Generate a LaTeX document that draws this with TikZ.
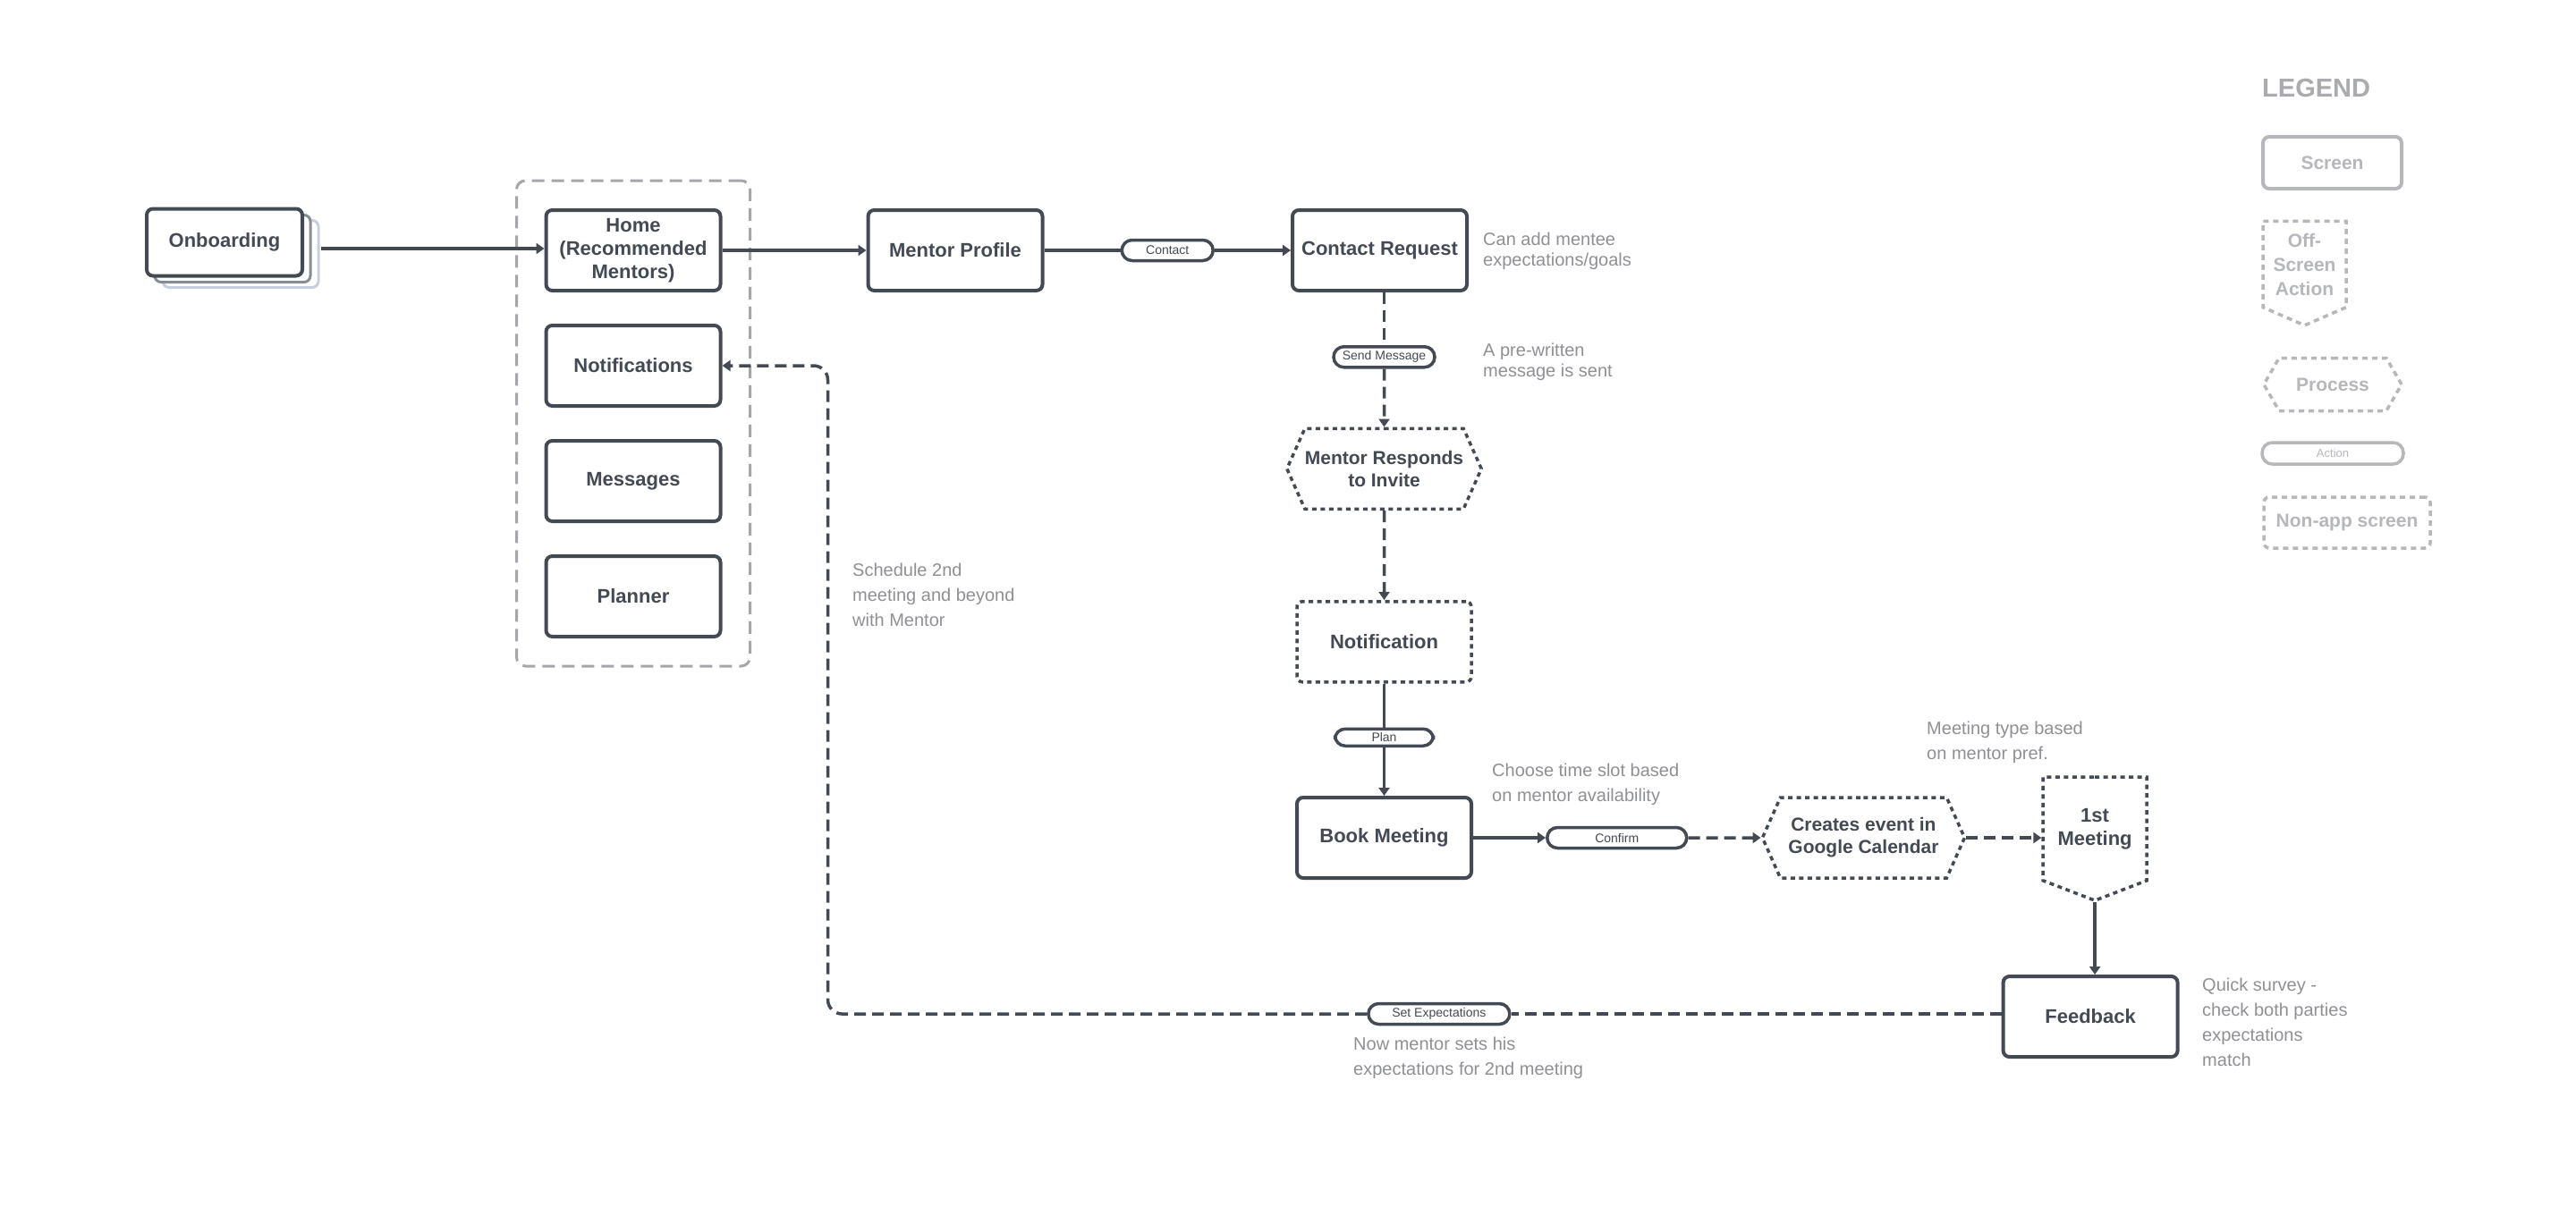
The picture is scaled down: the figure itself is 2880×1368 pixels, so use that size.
\documentclass[tikz,border=0pt]{standalone}
\usepackage{fontspec}
\setmainfont{Liberation Sans}
\usepackage{xcolor}
\usepackage{tikz}
\usetikzlibrary{arrows.meta, positioning, shapes.symbols, calc, backgrounds, fit, shadows}

\definecolor{ink}{HTML}{434A54}
\definecolor{notegray}{HTML}{8E9094}
\definecolor{legendgray}{HTML}{B5B7BA}
\definecolor{legendhead}{HTML}{A9ABAE}
\definecolor{groupgray}{HTML}{A4A6AA}
\definecolor{shadowgray}{HTML}{878D96}
\definecolor{shadowblue}{HTML}{C8CFDC}

\begin{document}
\begin{tikzpicture}[x=1pt, y=1pt,
  screen/.style={rectangle, rounded corners=7pt, draw=ink, line width=4pt, fill=white,
                 minimum width=195pt, minimum height=90pt, align=center, text=ink,
                 font=\bfseries\fontsize{22}{26}\selectfont},
  nonapp/.style={screen, line width=3.5pt, rounded corners=6pt, dash pattern=on 5pt off 4.5pt},
  process/.style={signal, signal to=east and west, signal pointer angle=132, draw=ink,
                  line width=3.5pt, dash pattern=on 5pt off 4.5pt, fill=white, inner xsep=0pt,
                  minimum width=214pt, minimum height=90pt, align=center, text=ink,
                  font=\bfseries\fontsize{21}{25}\selectfont},
  offscreen/.style={signal, signal to=south, signal pointer angle=138, draw=ink,
                    line width=3.5pt, dash pattern=on 5pt off 4.5pt, fill=white,
                    minimum width=116pt, minimum height=133pt, align=center, text=ink,
                    font=\bfseries\fontsize{22}{26}\selectfont},
  pill/.style={rectangle, rounded corners=11.5pt, draw=ink, line width=3.5pt, fill=white,
               minimum height=23pt, inner sep=0pt, text=ink, font=\fontsize{14}{16}\selectfont},
  annot/.style={anchor=west, align=left, inner sep=0pt, text=notegray,
                font=\fontsize{20}{28}\selectfont},
  legendpart/.style={draw=legendgray, text=legendgray, font=\bfseries\fontsize{21}{27}\selectfont},
  link/.style={line width=3.5pt, ink},
  arr/.style={link, -{Triangle[length=9pt, width=12pt]}},
  dlink/.style={link, dash pattern=on 13pt off 7pt},
  darr/.style={arr, dash pattern=on 13pt off 7pt}
]
\path[use as bounding box] (0,0) rectangle (2880,-1368);

% app menu
\node[screen, minimum width=174pt, minimum height=75pt,
      copy shadow={shadow xshift=18pt, shadow yshift=-13pt, draw=shadowblue, line width=3pt},
      copy shadow={shadow xshift=9pt, shadow yshift=-7pt, draw=shadowgray, line width=3pt}]
      (onb) at (251,-271) {Onboarding};
\node[screen] (home) at (708,-280) {Home\\(Recommended\\Mentors)};
\node[screen, below=35pt of home]   (notifs)  {Notifications};
\node[screen, below=35pt of notifs] (msgs)    {Messages};
\node[screen, below=35pt of msgs]   (planner) {Planner};
\begin{scope}[on background layer]
  \fill[white] (0,0) rectangle (2880,-1368);
  \node[fit=(home)(planner), inner sep=31pt, draw=groupgray, line width=3pt,
        dash pattern=on 14pt off 8pt, rounded corners=10pt] (menu) {};
\end{scope}

% contact flow
\node[screen, right=161pt of home] (mprof) {Mentor Profile};
\node[pill, minimum width=102pt, right=85pt of mprof] (contact) {Contact};
\node[screen, right=85pt of contact] (creq) {Contact Request};
\node[pill, minimum width=113pt, below=59pt of creq, xshift=5pt] (sendmsg) {Send Message};
\node[process, below=65pt of sendmsg] (mresp) {Mentor Responds\\to Invite};
\node[nonapp, below=100pt of mresp] (notif) {Notification};
\node[pill, minimum width=110pt, minimum height=19pt, below=49pt of notif] (plan) {Plan};
\node[screen, below=54pt of plan] (bookm) {Book Meeting};
\node[pill, minimum width=156pt, right=81pt of bookm] (confirm) {Confirm};
\node[process, minimum width=226pt, right=81pt of confirm] (gcal) {Creates event in\\Google Calendar};
\node[offscreen, right=84pt of gcal, yshift=10pt] (first) {1st\\Meeting};
\node[screen, below=81pt of first, xshift=-5pt] (feedback) {Feedback};
\node[pill, minimum width=158pt, left=548pt of feedback, yshift=3pt] (setexp) {Set Expectations};
\coordinate (loop) at ($(notifs.east)+(118pt,0)$);
\coordinate (onbout) at ([shift={(19pt,-7pt)}]onb.east);

\draw[arr] (onbout) -- (onbout -| home.west);
\draw[arr] (home) -- (mprof);
\draw[link] (mprof) -- (contact);
\draw[arr] (contact) -- (creq);
\draw[dlink] (sendmsg.north |- creq.south) -- (sendmsg);
\draw[darr] (sendmsg) -- (mresp);
\draw[darr] (mresp) -- (notif);
\draw[link] (notif) -- (plan);
\draw[arr] (plan) -- (bookm);
\draw[arr] (bookm) -- (confirm);
\draw[darr] (confirm) -- (gcal);
\draw[darr] (gcal.east) -- (gcal.east -| first.west);
\draw[arr] (first.south) -- (first.south |- feedback.north);
\draw[dlink] (setexp.east -| feedback.west) -- (setexp);
\draw[darr, rounded corners=16pt] (setexp.west) -| (loop) -- (notifs.east);

% notes
\node[annot, font=\fontsize{20}{23}\selectfont] (cannote) at (1658,-280.5) {Can add mentee\\expectations/goals};
\node[annot, font=\fontsize{20}{23}\selectfont] (prenote) at (1658,-404.5) {A pre-written\\message is sent};
\node[annot] (schednote) at (953,-665) {Schedule 2nd\\meeting and beyond\\with Mentor};
\node[annot] (slotnote)  at (1668,-877.5) {Choose time slot based\\on mentor availability};
\node[annot] (typenote)  at (2154,-830) {Meeting type based\\on mentor pref.};
\node[annot] (nownote)   at (1513,-1183.5) {Now mentor sets his\\expectations for 2nd meeting};
\node[annot] (quicknote) at (2462,-1143.5) {Quick survey -\\check both parties\\expectations\\match};

% legend
\node[anchor=west, inner sep=0pt, text=legendhead, font=\bfseries\fontsize{29}{30}\selectfont]
      (legtitle) at (2529,-99) {LEGEND};
\node[screen, legendpart, minimum width=155pt, minimum height=58pt] (lscreen) at (2607.5,-182) {Screen};
\node[offscreen, legendpart, dash pattern=on 6pt off 5pt, minimum width=93pt, minimum height=113pt,
      signal pointer angle=133] (loff) at (2576.5,-295.5) {Off-\\Screen\\Action};
\node[process, legendpart, dash pattern=on 6pt off 5pt, minimum width=154pt, minimum height=59pt,
      signal pointer angle=120] (lproc) at (2608,-430) {Process};
\node[pill, legendpart, minimum width=158pt, minimum height=24pt, font=\fontsize{13}{15}\selectfont]
      (laction) at (2608,-507) {Action};
\node[nonapp, legendpart, dash pattern=on 6pt off 5pt, minimum width=186pt, minimum height=57pt]
      (lnonapp) at (2624,-584.5) {Non-app screen};
\end{tikzpicture}
\end{document}
